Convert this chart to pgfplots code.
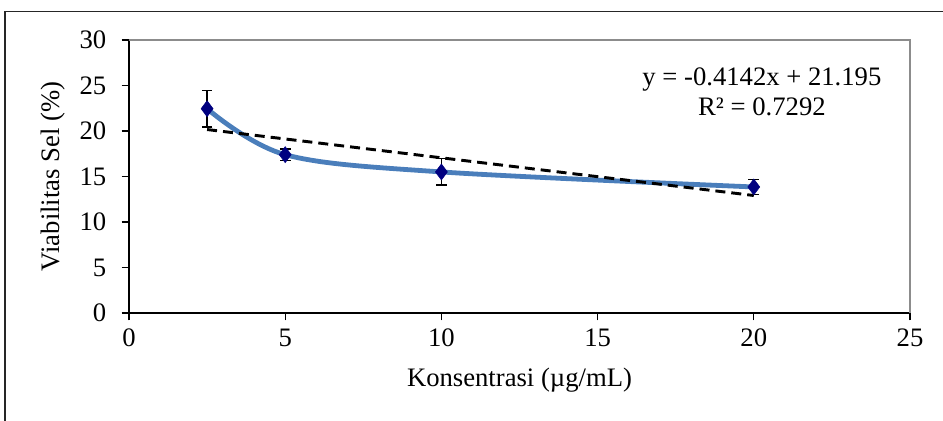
\documentclass[border=0pt]{standalone}
\usepackage{pgfplots}
\pgfplotsset{compat=1.18}
\usepackage{fontspec}
\setmainfont{Liberation Serif}
\definecolor{curveblue}{HTML}{4A7EBB}
\definecolor{navymark}{HTML}{000080}
\definecolor{framegray}{HTML}{8C8C8C}
\begin{document}
\begin{tikzpicture}
\useasboundingbox (0,0) rectangle (707.25pt,315.75pt);
\draw[line width=1.1pt, color=black!85] (3.75pt,-2pt) -- (3.75pt,307.0pt) -- (710pt,307.0pt);
\begin{axis}[
  at={(96.75pt,81pt)}, anchor=south west,
  scale only axis, width=585.75pt, height=204.75pt,
  xmin=0, xmax=25, ymin=0, ymax=30,
  xtick={0,5,...,25}, ytick={0,5,...,30},
  axis x line*=bottom, axis y line*=left,
  axis line style={line width=1pt, -},
  tick align=outside, major tick length=5.5pt,
  every tick/.style={black, line width=0.8pt},
  tick label style={font=\fontsize{20}{22}\selectfont},
  /pgf/number format/assume math mode=true,
  xticklabel style={yshift=-3pt},
  yticklabel style={xshift=-8pt},
  xlabel={Konsentrasi (µg/mL)},
  ylabel={Viabilitas Sel (\%)},
  label style={font=\fontsize{20}{22}\selectfont},
  xlabel style={yshift=-9pt},
  ylabel style={yshift=4pt},
  clip=false,
]
\draw[framegray, line width=1.5pt] (rel axis cs:0,1) -- (rel axis cs:1,1) -- (rel axis cs:1,0);
% smoothed series line
\addplot[curveblue, line width=3.6pt, smooth, tension=0.55, no markers] coordinates {
  (2.5,22.45) (5,17.4) (10,15.5) (20,13.85)
};
% linear trendline y = -0.4142x + 21.195
\addplot[black, line width=2.2pt, dash pattern=on 7.5pt off 4.5pt, no markers] coordinates {
  (2.5,20.16) (20,12.911)
};
% markers with error bars
\addplot[draw=none, mark=diamond*, mark size=6pt, mark options={fill=navymark, draw=navymark},
  error bars/.cd, y dir=both, y explicit,
  error bar style={black, line width=1pt},
  error mark options={rotate=90, mark size=4pt, line width=1pt, black}]
  coordinates {
  (2.5,22.45) +- (0,2.0)
  (5,17.4) +- (0,0.62)
  (10,15.5) +- (0,1.45)
  (20,13.85) +- (0,0.85)
};
\node[align=center, font=\fontsize{20}{22.5}\selectfont] at (axis cs:20.26,24.3) {y = -0.4142x + 21.195\\R² = 0.7292};
\end{axis}
\end{tikzpicture}
\end{document}
